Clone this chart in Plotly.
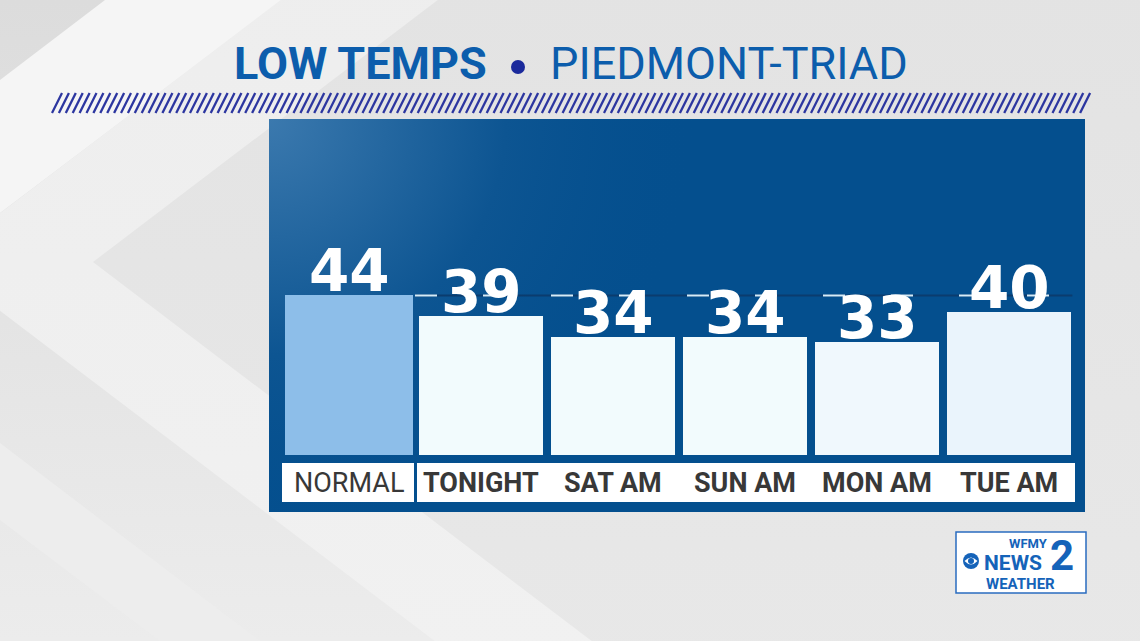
import plotly.graph_objects as go

# ---------------- data ----------------
categories = ["NORMAL", "TONIGHT", "SAT AM", "SUN AM", "MON AM", "TUE AM"]
lows = [44, 39, 34, 34, 33, 40]
normal_low = 44
title_left = "LOW TEMPS"
title_right = "PIEDMONT-TRIAD"
bar_colors = ["#8dbee9", "#f2fbfd", "#f2fbfd", "#f2fbfd", "#f0f8fd", "#eaf4fc"]
bar_widths = [0.977, 0.94, 0.94, 0.94, 0.94, 0.94]

W, H = 1140, 641


def px(x):
    return x / W


def py(y):
    return 1 - y / H


fig = go.Figure()


def poly(pts, color, xa="x", ya="y", **kw):
    xs = [p[0] for p in pts] + [pts[0][0]]
    ys = [p[1] for p in pts] + [pts[0][1]]
    fig.add_trace(go.Scatter(x=xs, y=ys, mode="lines", fill="toself", fillcolor=color,
                             line=dict(width=0), hoverinfo="skip", showlegend=False,
                             xaxis=xa, yaxis=ya, **kw))


# ---------------- background (pixel subplot x/y) ----------------
poly([(0, 0), (W, 0), (W, H), (0, H)], "#e6e6e6",
     fillgradient=dict(type="vertical", colorscale=[[0, "#ececec"], [1, "#dcdcdc"]]))
poly([(0, 80), (105, 0), (282, 0), (0, 213)], "#f5f5f5")
poly([(-64, 262), (1236, -726), (1236, 1250)], "#f1f1f1",
     fillgradient=dict(type="vertical", colorscale=[[0, "#f4f4f4"], [1, "#eaeaea"]]))
poly([(93, 262), (1393, -726), (1393, 1250)], "#e6e6e6",
     fillgradient=dict(type="vertical", colorscale=[[0, "#ececec"], [1, "#dedede"]]))
poly([(0, 443), (260, 641), (160, 641), (0, 520)], "#ededed")

# hatch band
hx, hy = [], []
x0 = 52
while x0 < 1082:
    hx += [x0, x0 + 10, None]
    hy += [113, 93, None]
    x0 += 6.9
fig.add_trace(go.Scatter(x=hx, y=hy, mode="lines", line=dict(color="#2c36a0", width=2.3),
                         hoverinfo="skip", showlegend=False, xaxis="x", yaxis="y"))

# ---------------- panel (subplot x2/y2) ----------------
poly([(269, 119), (1085, 119), (1085, 512), (269, 512)], "#044f8e", xa="x2", ya="y2")
poly([(269 - 430, 119 - 430), (269 + 430, 119 - 430), (269 + 430, 119 + 430), (269 - 430, 119 + 430)],
     "#044f8e", xa="x2", ya="y2",
     fillgradient=dict(type="radial",
                       colorscale=[[0, "#3b79ae"], [0.55, "#0d5592"], [1, "rgba(4,79,142,0)"]]))

# ---------------- bars (subplot x3/y3) ----------------
fig.add_trace(go.Bar(x=categories, y=lows, width=bar_widths, marker=dict(color=bar_colors, line=dict(width=0)),
                     xaxis="x3", yaxis="y3", hoverinfo="skip", showlegend=False, base=0))

shapes = []
annotations = []

# normal reference line
shapes.append(dict(type="line", xref="x3", yref="y3", x0=0.5, x1=5.48, y0=normal_low, y1=normal_low,
                   line=dict(color="#0b3c6e", width=2), layer="above"))
shapes.append(dict(type="line", xref="x3", yref="y3", x0=0.5, x1=5.48, y0=normal_low, y1=normal_low,
                   line=dict(color="#d6ecf8", width=2, dash="22px,46px"), layer="above"))

# label boxes
shapes.append(dict(type="rect", xref="paper", yref="paper", x0=px(282), x1=px(414), y0=py(502), y1=py(463),
                   fillcolor="white", line=dict(width=0), layer="above"))
shapes.append(dict(type="rect", xref="paper", yref="paper", x0=px(417), x1=px(1075), y0=py(502), y1=py(463),
                   fillcolor="white", line=dict(width=0), layer="above"))

for i, (c, v) in enumerate(zip(categories, lows)):
    annotations.append(dict(xref="x3", yref="y3", x=c, y=v, xanchor="center", yanchor="bottom", yshift=-12,
                            showarrow=False, text=str(v),
                            font=dict(family="DejaVu Sans", size=58, color="white", weight="bold")))
    annotations.append(dict(xref="x3", yref="paper", x=c, y=py(483), xanchor="center", yanchor="middle",
                            showarrow=False, text=c if i == 0 else "<b>%s</b>" % c,
                            font=dict(family="Roboto", size=27, color="#383838")))

# title
annotations.append(dict(xref="paper", yref="paper", x=px(489), y=py(63), xanchor="right", yanchor="middle",
                        showarrow=False, text="<b>%s</b>" % title_left,
                        font=dict(family="Roboto", size=45, color="#0c5dac")))
annotations.append(dict(xref="paper", yref="paper", x=px(548), y=py(63), xanchor="left", yanchor="middle",
                        showarrow=False, text=title_right,
                        font=dict(family="Roboto", size=45, color="#0c5dac")))
shapes.append(dict(type="circle", xref="paper", yref="paper", x0=px(511), x1=px(525), y0=py(74), y1=py(60),
                   fillcolor="#1b2a9c", line=dict(width=0), layer="above"))

# logo
shapes.append(dict(type="rect", xref="paper", yref="paper", x0=px(956), x1=px(1086), y0=py(593), y1=py(532),
                   fillcolor="white", line=dict(color="#2a6cc0", width=1.5), layer="above"))
shapes.append(dict(type="circle", xref="paper", yref="paper", x0=px(963), x1=px(979), y0=py(569), y1=py(553),
                   fillcolor="#1563b9", line=dict(width=0), layer="above"))
ex0, ex1, ey = 964.5, 977.5, 561
shapes.append(dict(type="path", xref="paper", yref="paper",
                   path="M %f,%f Q %f,%f %f,%f Q %f,%f %f,%f Z" % (
                       px(ex0), py(ey), px((ex0 + ex1) / 2), py(ey - 7), px(ex1), py(ey),
                       px((ex0 + ex1) / 2), py(ey + 7), px(ex0), py(ey)),
                   fillcolor="white", line=dict(width=0), layer="above"))
shapes.append(dict(type="circle", xref="paper", yref="paper", x0=px(968), x1=px(974), y0=py(564), y1=py(558),
                   fillcolor="#1563b9", line=dict(width=0), layer="above"))
logo_font = dict(family="Roboto", color="#1563b9", weight="bold")
for txt, lx, ly, sz in [("WFMY", 1028, 543, 13), ("NEWS", 1013, 563, 21), ("2", 1062, 555, 42),
                        ("WEATHER", 1020, 584, 15)]:
    annotations.append(dict(xref="paper", yref="paper", x=px(lx), y=py(ly), text=txt, showarrow=False,
                            xanchor="center", yanchor="middle", borderpad=0, font=dict(size=sz, **logo_font)))

hidden = dict(visible=False, fixedrange=True)
fig.update_layout(
    width=W, height=H, margin=dict(l=0, r=0, t=0, b=0),
    paper_bgcolor="#e6e6e6", plot_bgcolor="rgba(0,0,0,0)",
    showlegend=False, bargap=0,
    xaxis=dict(domain=[0, 1], range=[0, W], **hidden),
    yaxis=dict(domain=[0, 1], range=[H, 0], **hidden),
    xaxis2=dict(domain=[px(269), px(1085)], range=[269, 1085], anchor="y2", **hidden),
    yaxis2=dict(domain=[py(512), py(119)], range=[512, 119], anchor="x2", **hidden),
    xaxis3=dict(domain=[px(283), px(1075)], range=[-0.5, 5.5], type="category", anchor="y3", **hidden),
    yaxis3=dict(domain=[py(455), py(119)], range=[6, 86], anchor="x3", **hidden),
    shapes=shapes, annotations=annotations,
)

fig.write_html("out.html", config=dict(displayModeBar=False),
               post_script="document.body.style.margin='0';document.body.style.overflow='hidden';")
